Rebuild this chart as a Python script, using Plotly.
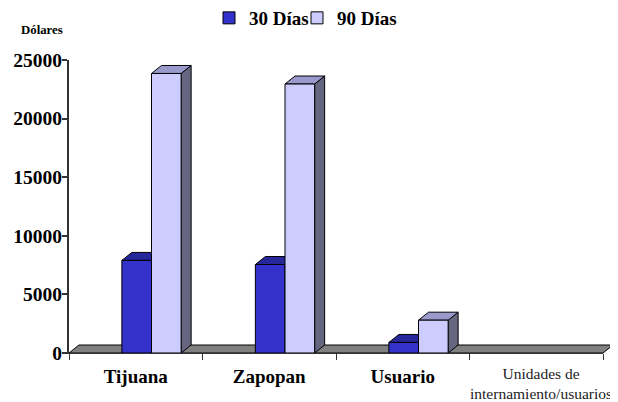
import plotly.graph_objects as go

categories = ["Tijuana", "Zapopan", "Usuario", "Unidades de<br>internamiento/usuarios"]
series_30 = [7900, 7550, 900, None]
series_90 = [23850, 22950, 2800, None]
y_ticks = [0, 5000, 10000, 15000, 20000, 25000]

PAGE = 8  # the browser's default body margin
W, H = 618 - PAGE, 402 - PAGE
L, R, T, B = 69, 603, 60, 353  # plot area in window pixels
YMAX = 25000
XMIN, XMAX = -0.5, 3.5
BAR_W = 0.222
SHIFT = 0.118  # bars sit right of the category centre, as in the oblique 3-D projection
DX = 10 * (XMAX - XMIN) / (R - L)
DY = 8 * YMAX / (B - T)
OUT = "#000000"

ticktext = [f"<b>{c}</b>" for c in categories[:3]] + [""]
bar_x = [i + SHIFT for i in range(len(categories))]

fig = go.Figure()


def poly(xs, ys, color, line=OUT):
    fig.add_trace(go.Scatter(x=xs, y=ys, mode="lines", fill="toself", fillcolor=color,
                             line=dict(color=line, width=1), showlegend=False,
                             hoverinfo="skip", cliponaxis=False))


def box(x0, v, top, side):
    x1 = x0 + BAR_W
    poly([x1, x1 + DX, x1 + DX, x1, x1], [0, DY, v + DY, v, 0], side)
    poly([x0, x0 + DX, x1 + DX, x1, x0], [v, v + DY, v + DY, v, v], top)


for i in range(3):
    box(bar_x[i] - BAR_W, series_30[i], "#27279C", "#1C1C70")
    box(bar_x[i], series_90[i], "#9999CC", "#666680")

fig.add_trace(go.Bar(x=bar_x, y=series_30, name="<b>30 Días</b>", offset=-BAR_W, width=BAR_W,
                     marker=dict(color="#3333CC", line=dict(color=OUT, width=1)),
                     xaxis="x2", yaxis="y2", legend="legend"))
fig.add_trace(go.Bar(x=bar_x, y=series_90, name="<b>90 Días</b>", offset=0, width=BAR_W,
                     marker=dict(color="#CCCCFF", line=dict(color=OUT, width=1)),
                     xaxis="x2", yaxis="y2", legend="legend2"))

legend_common = dict(orientation="h", xanchor="left", yanchor="middle", font=dict(size=19),
                     itemwidth=30, bgcolor="rgba(0,0,0,0)", y=(B - 18) / (B - T))

floor_dx = 10 / (R - L)
floor_dy = 8 / (B - T)

fig.update_layout(
    width=W, height=H, autosize=False,
    margin=dict(l=L - PAGE, r=W - (R - PAGE), t=T - PAGE, b=H - (B - PAGE), autoexpand=False),
    paper_bgcolor="white", plot_bgcolor="white",
    font=dict(family="Liberation Serif", color="black"),
    barmode="overlay",
    showlegend=True,
    legend=dict(x=(209 - L) / (R - L), **legend_common),
    legend2=dict(x=(297 - L) / (R - L), **legend_common),
    shapes=[dict(type="path", xref="paper", yref="paper", layer="below",
                 path=f"M 0 0 L {floor_dx} {floor_dy} L {1 + floor_dx} {floor_dy} L 1 0 Z",
                 fillcolor="#808080", line=dict(color=OUT, width=1))],
    xaxis=dict(range=[XMIN, XMAX], tickmode="array", tickvals=list(range(4)), ticktext=ticktext,
               ticks="", showgrid=False, zeroline=False, showline=True, linecolor="#333333", linewidth=1,
               automargin=False,
               tickfont=dict(size=19, family="Liberation Serif"), ticklabelstandoff=6,
               minor=dict(tickmode="array", tickvals=[-0.5, 0.5, 1.5, 2.5, 3.5], ticks="outside",
                          ticklen=6, tickwidth=1, tickcolor="#333333", showgrid=False)),
    yaxis=dict(range=[0, YMAX], tickmode="array", tickvals=y_ticks,
               ticktext=[f"<b>{v}</b>" for v in y_ticks],
               ticks="outside", ticklen=5, tickwidth=2, tickcolor="#333333",
               showgrid=False, zeroline=False, showline=True, linecolor="#333333", linewidth=2,
               automargin=False, ticklabelstandoff=-4,
               tickfont=dict(size=19.5, family="Liberation Serif")),
    xaxis2=dict(range=[XMIN, XMAX], overlaying="x", visible=False),
    yaxis2=dict(range=[0, YMAX], overlaying="y", visible=False),
    annotations=[
        dict(text="<b>Dólares</b>", x=(42 - L) / (R - L), y=(B - 30) / (B - T), xref="paper", yref="paper",
             showarrow=False, font=dict(size=12.8), xanchor="center", yanchor="middle"),
        dict(text=categories[3], x=3, xref="x", xshift=5, y=(B - 383) / (B - T), yref="paper", showarrow=False,
             font=dict(size=15.5, color="#222222"), align="center", yanchor="middle", xanchor="center"),
    ],
)

fig.write_html("out.html")
